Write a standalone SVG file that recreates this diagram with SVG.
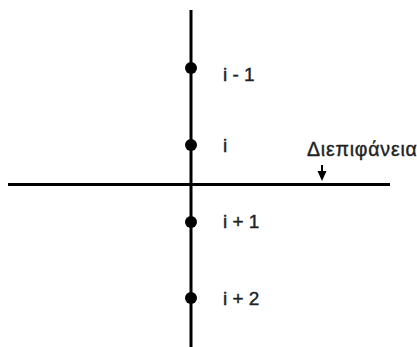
<svg xmlns="http://www.w3.org/2000/svg" width="417" height="347" viewBox="0 0 417 347">
<style>
.ln{stroke:#000;stroke-width:3;fill:none}
.dot{fill:#000}
.lbl{font-family:"Liberation Sans",Arial,sans-serif;font-size:19px;fill:#222;stroke:#222;stroke-width:0.4}
.gr{font-size:19.5px;letter-spacing:0.8px}
</style>
<rect width="417" height="347" fill="#fff"/>
<g id="connectors">
<line class="ln" x1="191" y1="10" x2="191" y2="347"/>
<line class="ln" x1="8" y1="184.5" x2="390" y2="184.5"/>
<line x1="322" y1="165" x2="322" y2="173" stroke="#000" stroke-width="2"/>
<polygon points="317.5,171 326.5,171 322,181" fill="#000"/>
</g>
<g id="n1"><circle class="dot" cx="191" cy="68" r="6"/><text class="lbl" x="223" y="81">i - 1</text></g>
<g id="n2"><circle class="dot" cx="191" cy="145" r="6"/><text class="lbl" x="223" y="152">i</text></g>
<g id="n3"><circle class="dot" cx="191" cy="222" r="6"/><text class="lbl" x="223" y="228">i + 1</text></g>
<g id="n4"><circle class="dot" cx="191" cy="298" r="6"/><text class="lbl" x="223" y="305">i + 2</text></g>
<g id="label"><text class="lbl gr" x="307" y="156">Διεπιφάνεια</text></g>
</svg>
